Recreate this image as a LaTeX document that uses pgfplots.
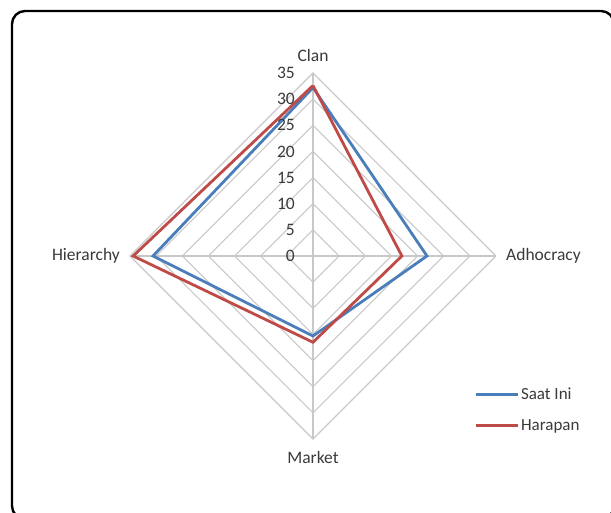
\documentclass[border=0pt]{standalone}
\usepackage{pgfplots}
\pgfplotsset{compat=1.18}
\usepgfplotslibrary{polar}
\usepackage{fontspec}
\setmainfont{Carlito}
\definecolor{sblue}{HTML}{4A7EBB}
\definecolor{sred}{HTML}{BE4B48}
\definecolor{gridc}{HTML}{C8C8C8}
\definecolor{txt}{HTML}{3A3A3A}
\begin{document}
\begin{tikzpicture}
\begin{polaraxis}[
  scale only axis, width=366pt, height=366pt,
  xmin=0, xmax=360, ymin=0, ymax=35,
  hide axis, clip=false,
  font=\fontsize{17.5}{21}\selectfont\color{txt},
  legend style={draw=none, fill=none, at={(0.94,0.08)}, anchor=west,
    font=\fontsize{17}{20}\selectfont\color{txt}, row sep=14pt,
    inner sep=0pt, cells={anchor=west}},
  legend cell align=left,
  legend image code/.code={\draw[#1, line width=2.8pt] (0pt,0pt) -- (42pt,0pt);},
]
% grid diamonds
\addplot[gridc, line width=1.1pt, forget plot] coordinates {(0,5)(90,5)(180,5)(270,5)(360,5)};
\addplot[gridc, line width=1.1pt, forget plot] coordinates {(0,10)(90,10)(180,10)(270,10)(360,10)};
\addplot[gridc, line width=1.1pt, forget plot] coordinates {(0,15)(90,15)(180,15)(270,15)(360,15)};
\addplot[gridc, line width=1.1pt, forget plot] coordinates {(0,20)(90,20)(180,20)(270,20)(360,20)};
\addplot[gridc, line width=1.1pt, forget plot] coordinates {(0,25)(90,25)(180,25)(270,25)(360,25)};
\addplot[gridc, line width=1.1pt, forget plot] coordinates {(0,30)(90,30)(180,30)(270,30)(360,30)};
\addplot[gridc, line width=1.1pt, forget plot] coordinates {(0,35)(90,35)(180,35)(270,35)(360,35)};
% spokes
\addplot[gridc, line width=1.1pt, forget plot] coordinates {(90,0)(90,35)};
\addplot[gridc, line width=1.1pt, forget plot] coordinates {(0,0)(0,35)};
\addplot[gridc, line width=1.1pt, forget plot] coordinates {(270,0)(270,35)};
\addplot[gridc, line width=1.1pt, forget plot] coordinates {(180,0)(180,35)};
% data: Clan(90), Adhocracy(0), Market(270), Hierarchy(180)
\addplot[sblue, line width=2.8pt, line join=miter] coordinates {(90,32.2)(0,21.8)(-90,15.3)(-180,30.6)(-270,32.2)};
\addlegendentry{Saat Ini}
\addplot[sred, line width=2.8pt, line join=miter] coordinates {(90,32.6)(0,17.0)(-90,16.5)(-180,34.4)(-270,32.6)};
\addlegendentry{Harapan}
% category labels
\node[anchor=south, inner sep=0pt] at ([yshift=11pt]axis cs:90,35) {Clan};
\node[anchor=west, inner sep=0pt] at ([xshift=10pt]axis cs:0,35) {Adhocracy};
\node[anchor=north, inner sep=0pt] at ([yshift=-12pt]axis cs:270,35) {Market};
\node[anchor=east, inner sep=0pt] at ([xshift=-10pt]axis cs:180,35) {Hierarchy};
% value labels
\node[anchor=east, inner sep=0pt] at ([xshift=-18pt]axis cs:90,0) {0};
\node[anchor=east, inner sep=0pt] at ([xshift=-18pt]axis cs:90,5) {5};
\node[anchor=east, inner sep=0pt] at ([xshift=-18pt]axis cs:90,10) {10};
\node[anchor=east, inner sep=0pt] at ([xshift=-18pt]axis cs:90,15) {15};
\node[anchor=east, inner sep=0pt] at ([xshift=-18pt]axis cs:90,20) {20};
\node[anchor=east, inner sep=0pt] at ([xshift=-18pt]axis cs:90,25) {25};
\node[anchor=east, inner sep=0pt] at ([xshift=-18pt]axis cs:90,30) {30};
\node[anchor=east, inner sep=0pt] at ([xshift=-18pt]axis cs:90,35) {35};
\coordinate (C) at (axis cs:0,0);
\end{polaraxis}
\begin{scope}[shift={(C)}, x=1pt, y=1pt]
\useasboundingbox (-313,-257) rectangle (298,256);
\draw[line width=2.4pt, rounded corners=13pt] (-301,245) rectangle (301,-263);
\end{scope}
\end{tikzpicture}
\end{document}
